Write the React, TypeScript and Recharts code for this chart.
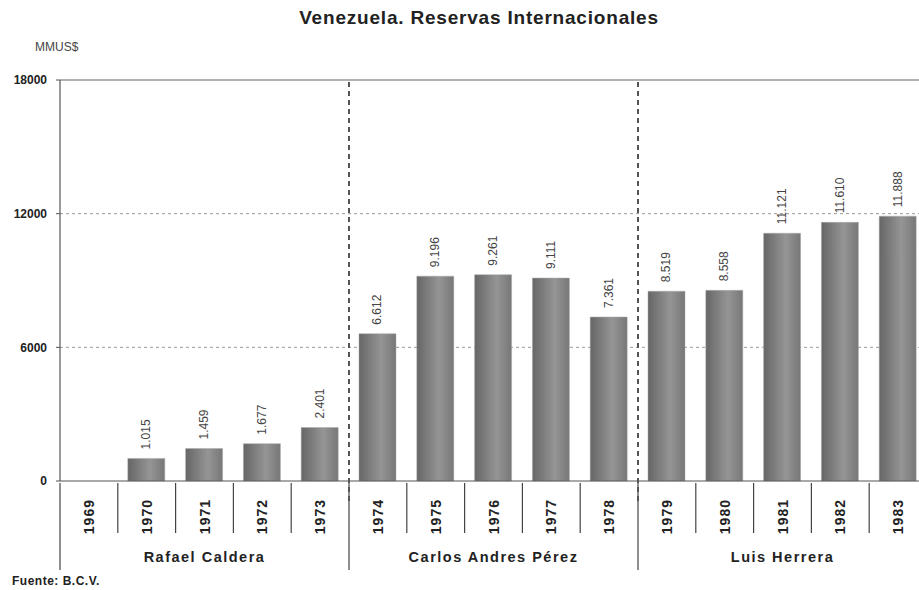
import { BarChart, Bar, XAxis, YAxis, CartesianGrid, ReferenceLine, LabelList } from "recharts";

const years = ["1969", "1970", "1971", "1972", "1973", "1974", "1975", "1976", "1977", "1978", "1979", "1980", "1981", "1982", "1983"];
const reservas = [null, 1015, 1459, 1677, 2401, 6612, 9196, 9261, 9111, 7361, 8519, 8558, 11121, 11610, 11888];
const presidents = ["Rafael Caldera", "Carlos Andres Pérez", "Luis Herrera"];
const yearsPerTerm = 5;
const yTicks = [0, 6000, 12000, 18000];
const gridValues = [6000, 12000];

const data = years.map((year, i) => ({ year, value: reservas[i] }));

const FONT = "Arial, 'Liberation Sans', sans-serif";
const CHART_W = 927;
const CHART_H = 590;
const TOP = 80;
const AXIS_W = 60;
const X_AXIS_H = 109;
const PLOT_H = CHART_H - TOP - X_AXIS_H;
const BAND = (CHART_W - AXIS_W) / years.length;

const fmt = (v: number) => String(v).replace(/\B(?=(\d{3})+(?!\d))/g, ".");

const YearTick = (props: any) => {
  const { x, y, payload, index } = props;
  const left = x - BAND / 2;
  const termStart = index % yearsPerTerm === 0;
  const termMiddle = index % yearsPerTerm === Math.floor(yearsPerTerm / 2);
  const term = presidents[Math.floor(index / yearsPerTerm)];
  return (
    <g>
      <text
        x={x}
        y={y + 16}
        transform={`rotate(-90, ${x}, ${y + 16})`}
        textAnchor="end"
        dominantBaseline="central"
        fontFamily={FONT}
        fontSize={14}
        fontWeight="bold"
        letterSpacing={1}
        fill="#222"
      >
        {payload.value}
      </text>
      {termStart ? (
        <line x1={left} x2={left} y1={y} y2={y + 87} stroke="#444" strokeWidth={1.2} />
      ) : (
        <line x1={left} x2={left} y1={y} y2={y + 50} stroke="#444" strokeWidth={1.2} />
      )}
      {termStart && index > 0 && (
        <line x1={left} x2={left} y1={y - PLOT_H} y2={y + 20} stroke="#555" strokeWidth={2} strokeDasharray="5 4" />
      )}
      {termMiddle && (
        <text
          x={x}
          y={y + 74}
          textAnchor="middle"
          dominantBaseline="central"
          fontFamily={FONT}
          fontSize={14.5}
          fontWeight="bold"
          letterSpacing={1.5}
          fill="#222"
        >
          {term}
        </text>
      )}
    </g>
  );
};

const ValueLabel = (props: any) => {
  const { x, y, width, value } = props;
  if (value == null) return null;
  const cx = x + width / 2;
  const ty = y - 9;
  return (
    <text
      x={cx}
      y={ty}
      transform={`rotate(-90, ${cx}, ${ty})`}
      textAnchor="start"
      dominantBaseline="central"
      fontFamily={FONT}
      fontSize={12}
      fill="#444"
    >
      {fmt(value)}
    </text>
  );
};

export default function App() {
  return (
    <div style={{ position: "fixed", left: 0, top: 0, width: 919, height: 590, overflow: "hidden", background: "#fff", fontFamily: FONT }}>
      <div style={{ position: "absolute", left: 0, width: 958, top: 7, textAlign: "center", fontSize: 19, fontWeight: "bold", letterSpacing: 0.8, color: "#222" }}>
        Venezuela. Reservas Internacionales
      </div>
      <div style={{ position: "absolute", left: 35, top: 40, fontSize: 12, color: "#444" }}>MMUS$</div>
      <div style={{ position: "absolute", left: 12, top: 574, fontSize: 12, fontWeight: "bold", color: "#222", letterSpacing: 0.5 }}>
        Fuente: B.C.V.
      </div>
      <div style={{ position: "absolute", left: 0, top: 0 }}>
        <BarChart width={CHART_W} height={CHART_H} data={data} margin={{ top: TOP, right: 0, bottom: 0, left: 0 }}>
          <defs>
            <linearGradient id="barFill" x1="0" y1="0" x2="1" y2="0">
              <stop offset="0%" stopColor="#666" />
              <stop offset="60%" stopColor="#959595" />
              <stop offset="100%" stopColor="#777" />
            </linearGradient>
          </defs>
          <CartesianGrid vertical={false} horizontalValues={gridValues} stroke="#999" strokeDasharray="3 3" />
          <ReferenceLine y={18000} stroke="#666" strokeWidth={1.2} />
          <XAxis
            dataKey="year"
            height={X_AXIS_H}
            tickLine={false}
            tickSize={0}
            axisLine={{ stroke: "#555", strokeWidth: 1.2 }}
            interval={0}
            tick={<YearTick />}
          />
          <YAxis
            width={AXIS_W}
            domain={[0, 18000]}
            ticks={yTicks}
            tickSize={4}
            tickMargin={9}
            axisLine={{ stroke: "#555", strokeWidth: 1.2 }}
            tickLine={{ stroke: "#555" }}
            tick={{ fontFamily: FONT, fontSize: 12, fontWeight: "bold", fill: "#222" }}
          />
          <Bar dataKey="value" barSize={37} fill="url(#barFill)" stroke="#aaa" strokeWidth={0.5} isAnimationActive={false}>
            <LabelList dataKey="value" content={<ValueLabel />} />
          </Bar>
        </BarChart>
      </div>
    </div>
  );
}
